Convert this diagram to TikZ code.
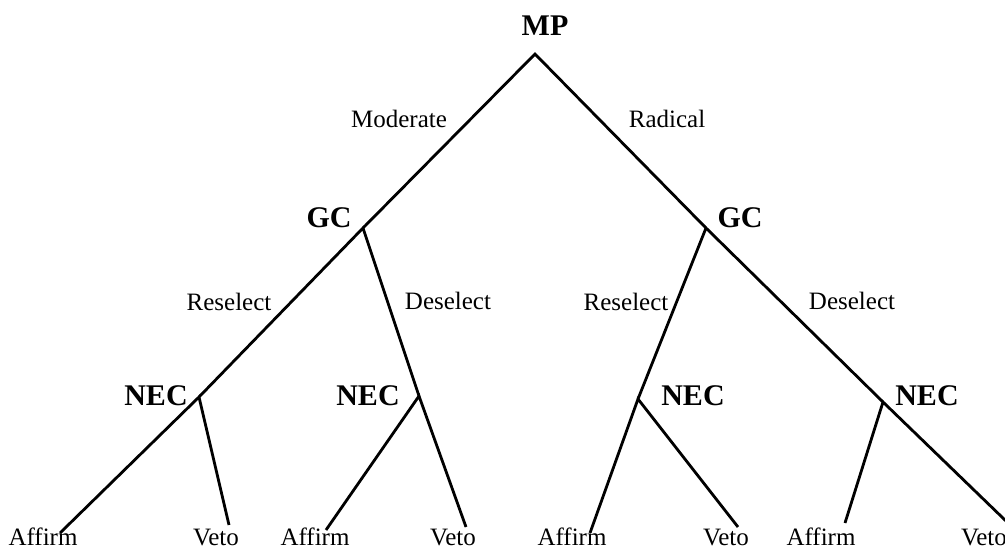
\documentclass[tikz,border=0pt]{standalone}
\usepackage{fontspec}
\setmainfont{Liberation Serif}

\begin{document}
\begin{tikzpicture}[x=1pt,y=-1pt,
    player/.style={font=\fontsize{30}{36}\selectfont\bfseries, anchor=base, inner sep=0pt},
    move/.style={font=\fontsize{25}{30}\selectfont, anchor=base, inner sep=0pt},
    branch/.style={line width=2.8pt}]
    \clip (0,0) rectangle (1005,550);

    % decision points
    \coordinate (mp) at (535,54);
    \coordinate (gcL) at (363,228);
    \coordinate (gcR) at (706,228);
    \coordinate (necA) at (199,397);
    \coordinate (necB) at (419,396);
    \coordinate (necC) at (638,399);
    \coordinate (necD) at (883,402);

    % end points
    \coordinate (affA) at (60,533);
    \coordinate (vetoA) at (229,525);
    \coordinate (affB) at (326,530);
    \coordinate (vetoB) at (466,527);
    \coordinate (affC) at (590,533);
    \coordinate (vetoC) at (738,527);
    \coordinate (affD) at (845,523);
    \coordinate (vetoD) at (1006,521);

    % branches
    \draw[branch] (gcL) -- (mp) -- (gcR);
    \draw[branch] (necA) -- (gcL) -- (necB);
    \draw[branch] (necC) -- (gcR) -- (necD);
    \draw[branch] (affA) -- (necA) -- (vetoA);
    \draw[branch] (affB) -- (necB) -- (vetoB);
    \draw[branch] (affC) -- (necC) -- (vetoC);
    \draw[branch] (affD) -- (necD) -- (vetoD);

    % players
    \node[player] (mpLabel) at (545,35) {MP};
    \node[player] (gcLLabel) at (329,227) {GC};
    \node[player] (gcRLabel) at (740,227) {GC};
    \node[player] (necALabel) at (156,405) {NEC};
    \node[player] (necBLabel) at (368,405) {NEC};
    \node[player] (necCLabel) at (693,405) {NEC};
    \node[player] (necDLabel) at (927,405) {NEC};

    % moves
    \node[move] (moderate) at (399,127) {Moderate};
    \node[move] (radical) at (667,127) {Radical};
    \node[move] (reselA) at (229,310) {Reselect};
    \node[move] (deselA) at (448,309) {Deselect};
    \node[move] (reselB) at (626,310) {Reselect};
    \node[move] (deselB) at (852,309) {Deselect};

    % outcomes
    \node[move] (affALabel) at (43,545) {Affirm};
    \node[move] (vetoALabel) at (216,545) {Veto};
    \node[move] (affBLabel) at (315,545) {Affirm};
    \node[move] (vetoBLabel) at (453,545) {Veto};
    \node[move] (affCLabel) at (572,545) {Affirm};
    \node[move] (vetoCLabel) at (726,545) {Veto};
    \node[move] (affDLabel) at (821,545) {Affirm};
    \node[move] (vetoDLabel) at (984,545) {Veto};
\end{tikzpicture}
\end{document}
